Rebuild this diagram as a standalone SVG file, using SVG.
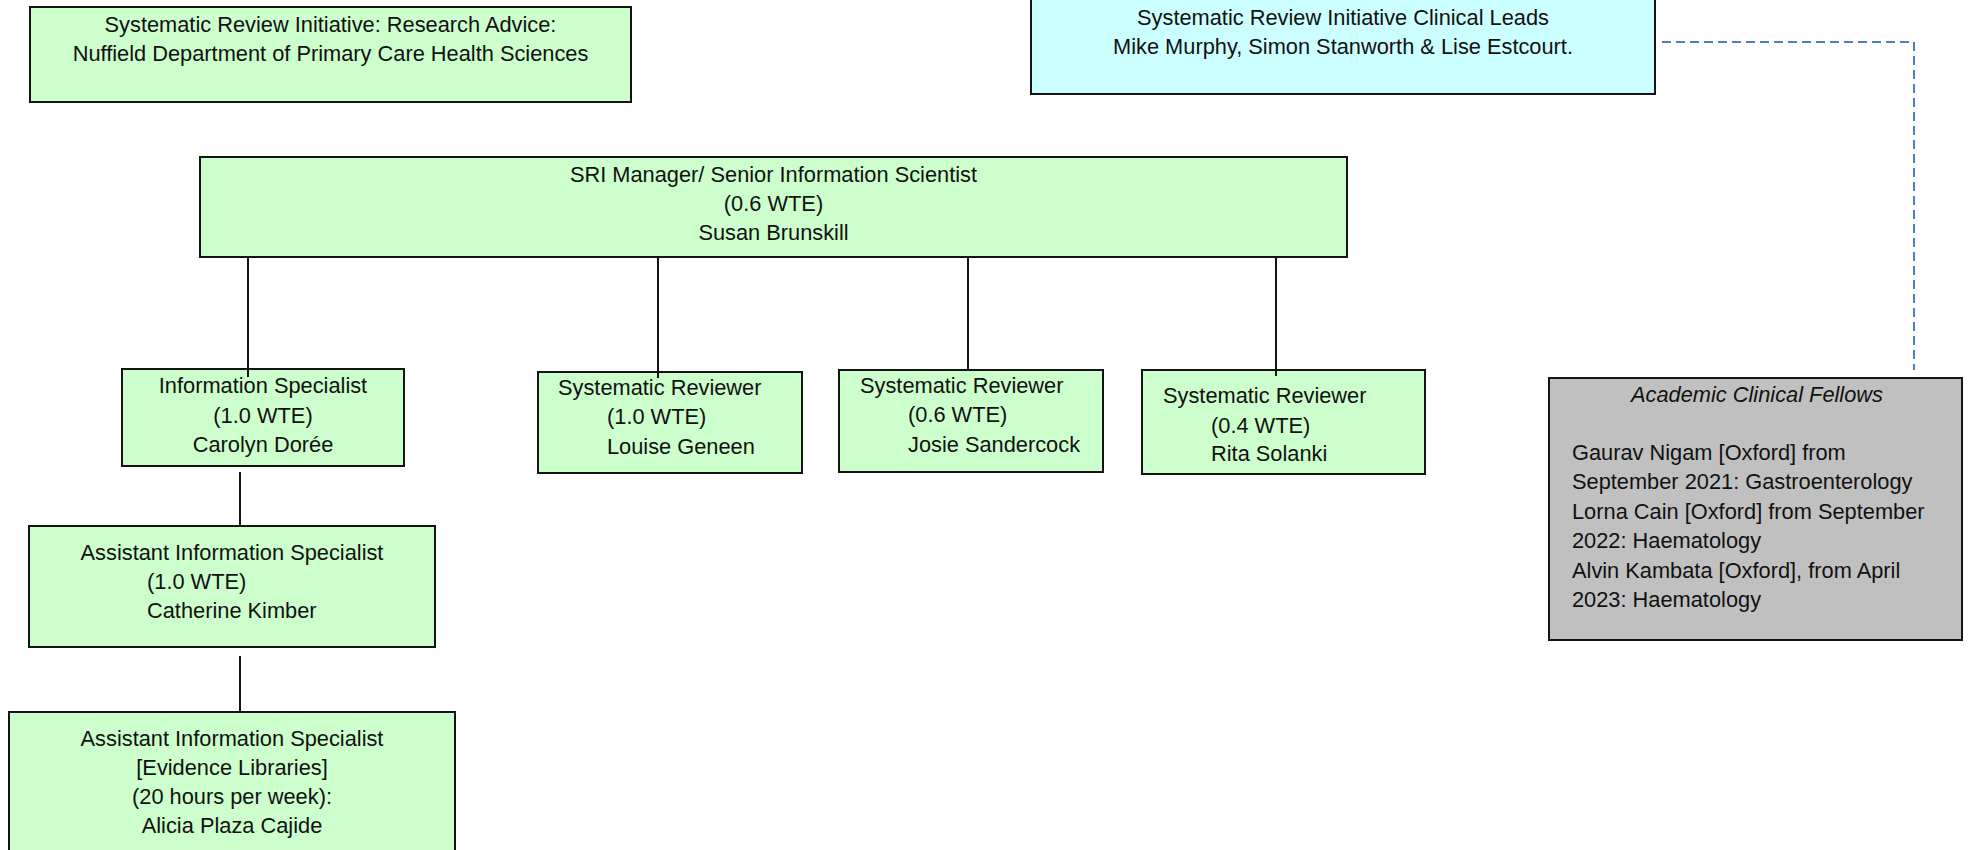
<svg xmlns="http://www.w3.org/2000/svg" width="1970" height="850" viewBox="0 0 1970 850">
<style>
.box{stroke:#141414;stroke-width:2}
.g{fill:#CCFFCC}
.c{fill:#CCFFFF}
.gr{fill:#C0C0C0}
text{font-family:"Liberation Sans",Arial,sans-serif;font-size:21.8px;fill:#111}
.m{text-anchor:middle}
.conn{stroke:#141414;stroke-width:2;fill:none}
.dash{stroke:#4A7EC6;stroke-width:2;fill:none;stroke-dasharray:9 5}
</style>
<rect width="1970" height="850" fill="#fff"/>
<g id="research-advice">
<rect class="box g" x="30" y="7" width="601" height="95"/>
<text class="m" x="330.5" y="32">Systematic Review Initiative: Research Advice:</text>
<text class="m" x="330.5" y="61">Nuffield Department of Primary Care Health Sciences</text>
</g>
<g id="clinical-leads">
<rect class="box c" x="1031" y="-2" width="624" height="96"/>
<text class="m" x="1343" y="25">Systematic Review Initiative Clinical Leads</text>
<text class="m" x="1343" y="54">Mike Murphy, Simon Stanworth &amp; Lise Estcourt.</text>
</g>
<g id="sri-manager">
<rect class="box g" x="200" y="157" width="1147" height="100"/>
<text class="m" x="773.5" y="182">SRI Manager/ Senior Information Scientist</text>
<text class="m" x="773.5" y="211">(0.6 WTE)</text>
<text class="m" x="773.5" y="240">Susan Brunskill</text>
</g>
<g id="information-specialist">
<rect class="box g" x="122" y="369" width="282" height="97"/>
<text class="m" x="263" y="393">Information Specialist</text>
<text class="m" x="263" y="423">(1.0 WTE)</text>
<text class="m" x="263" y="452">Carolyn Dorée</text>
</g>
<g id="reviewer-geneen">
<rect class="box g" x="538" y="372" width="264" height="101"/>
<text x="558" y="395">Systematic Reviewer</text>
<text x="607" y="424">(1.0 WTE)</text>
<text x="607" y="454">Louise Geneen</text>
</g>
<g id="reviewer-sandercock">
<rect class="box g" x="839" y="370" width="264" height="102"/>
<text x="860" y="393">Systematic Reviewer</text>
<text x="908" y="422">(0.6 WTE)</text>
<text x="908" y="452">Josie Sandercock</text>
</g>
<g id="reviewer-solanki">
<rect class="box g" x="1142" y="370" width="283" height="104"/>
<text x="1163" y="403">Systematic Reviewer</text>
<text x="1211" y="433">(0.4 WTE)</text>
<text x="1211" y="461">Rita Solanki</text>
</g>
<g id="academic-clinical-fellows">
<rect class="box gr" x="1549" y="378" width="413" height="262"/>
<text class="m" x="1757" y="402" font-style="italic">Academic Clinical Fellows</text>
<text x="1572" y="460">Gaurav Nigam [Oxford] from</text>
<text x="1572" y="489">September 2021: Gastroenterology</text>
<text x="1572" y="519">Lorna Cain [Oxford] from September</text>
<text x="1572" y="548">2022: Haematology</text>
<text x="1572" y="578">Alvin Kambata [Oxford], from April</text>
<text x="1572" y="607">2023: Haematology</text>
</g>
<g id="assistant-kimber">
<rect class="box g" x="29" y="526" width="406" height="121"/>
<text class="m" x="232" y="560">Assistant Information Specialist</text>
<text x="147" y="589">(1.0 WTE)</text>
<text x="147" y="618">Catherine Kimber</text>
</g>
<g id="assistant-plaza-cajide">
<rect class="box g" x="9" y="712" width="446" height="150"/>
<text class="m" x="232" y="746">Assistant Information Specialist</text>
<text class="m" x="232" y="775">[Evidence Libraries]</text>
<text class="m" x="232" y="804">(20 hours per week):</text>
<text class="m" x="232" y="833">Alicia Plaza Cajide</text>
</g>
<g id="connectors">
<line class="conn" x1="248" y1="257" x2="248" y2="377"/>
<line class="conn" x1="658" y1="257" x2="658" y2="378"/>
<line class="conn" x1="968" y1="257" x2="968" y2="370"/>
<line class="conn" x1="1276" y1="257" x2="1276" y2="376"/>
<line class="conn" x1="240" y1="472" x2="240" y2="526"/>
<line class="conn" x1="240" y1="656" x2="240" y2="712"/>
<path class="dash" d="M1662,42 H1914 V370"/>
</g>
</svg>
